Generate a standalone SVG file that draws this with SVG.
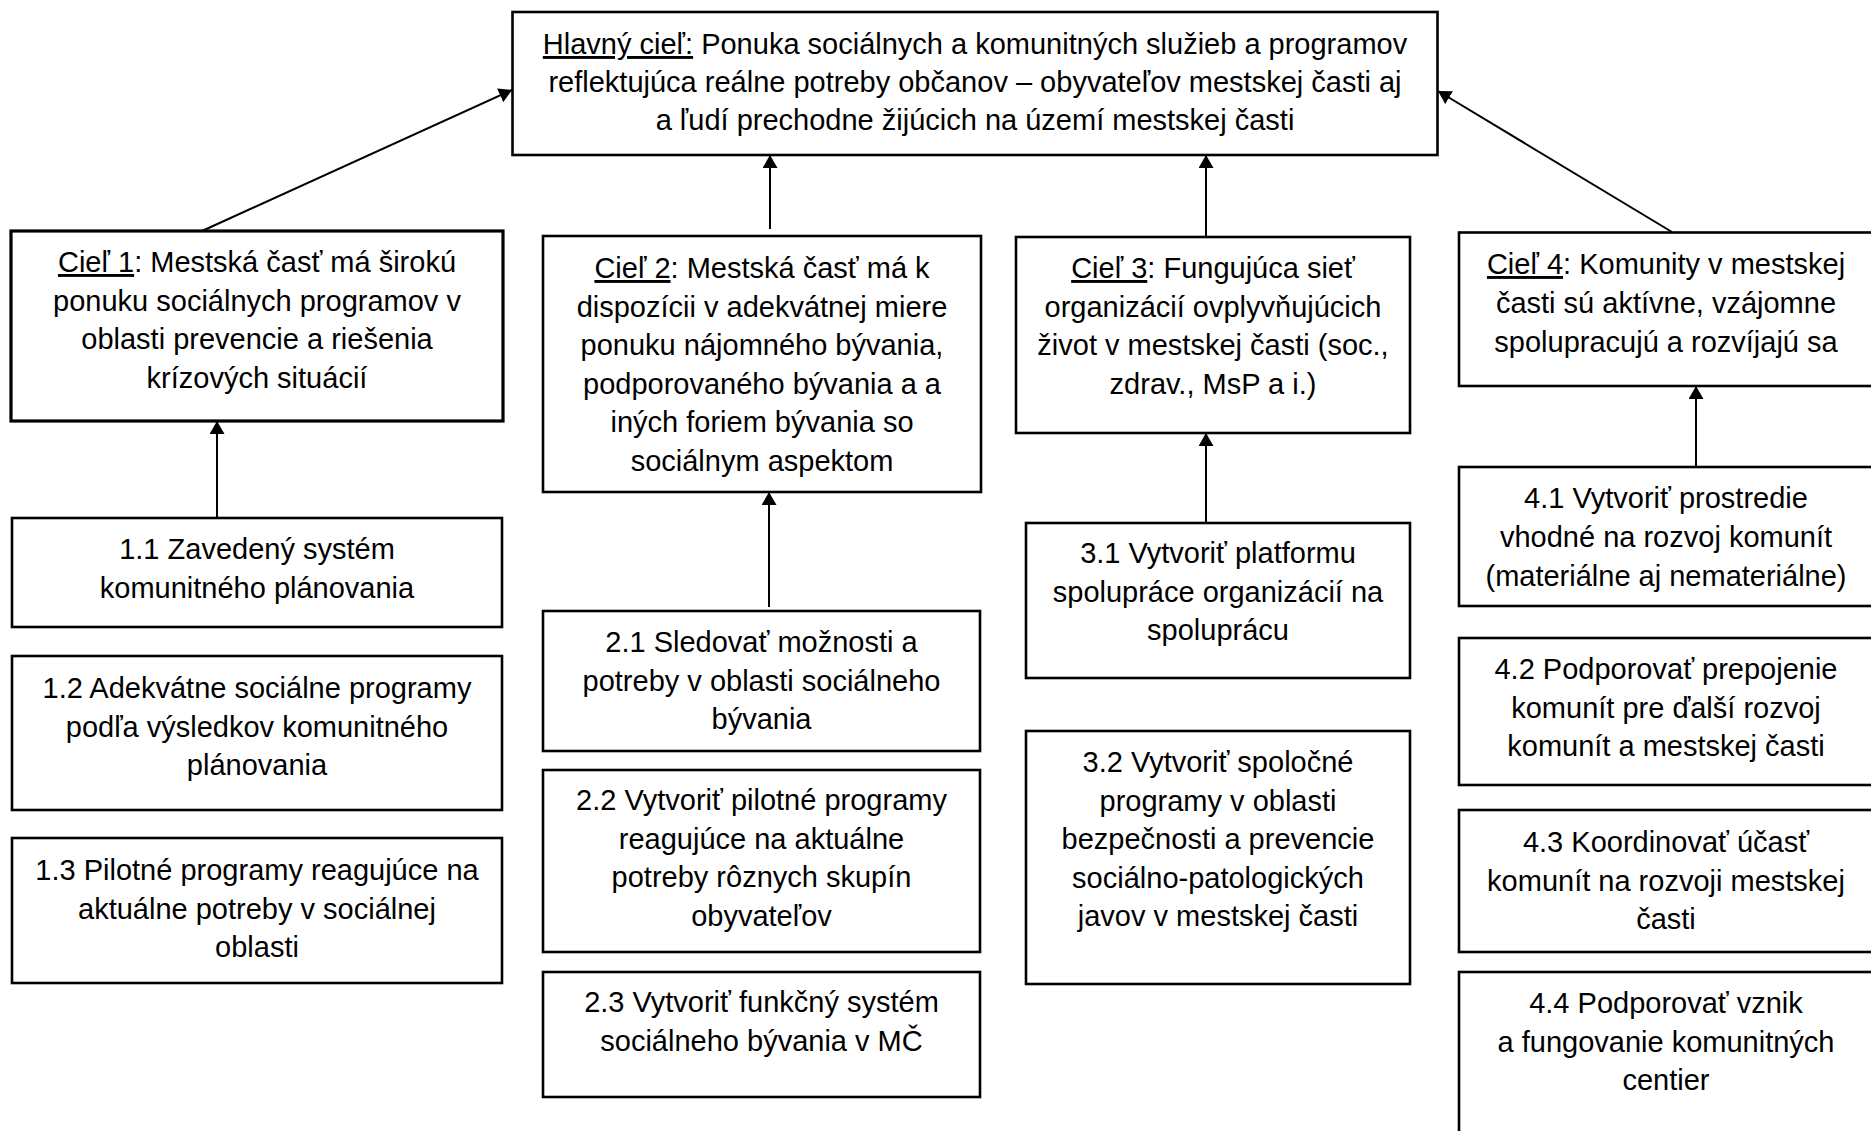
<svg xmlns="http://www.w3.org/2000/svg" width="1871" height="1131" viewBox="0 0 1871 1131">
  <style>
    .box { fill: #ffffff; stroke: #000000; stroke-width: 2.6; }
    .thick { stroke-width: 3.2; }
    .t { font-family: "Liberation Sans", Arial, sans-serif; font-size: 29px; fill: #000000; text-anchor: middle; }
    .u { text-decoration: underline; }
    .conn { stroke: #000000; stroke-width: 2; fill: none; marker-end: url(#arrow); }
  </style>
  <defs>
    <marker id="arrow" viewBox="0 0 13 15" refX="13" refY="7.5" markerWidth="13" markerHeight="15" markerUnits="userSpaceOnUse" orient="auto">
      <path d="M0,0 L13,7.5 L0,15 Z" fill="#000000"/>
    </marker>
  </defs>
  <rect x="0" y="0" width="1871" height="1131" fill="#ffffff"/>

  <g id="connectors">
    <line class="conn" x1="202" y1="231" x2="512" y2="90"/>
    <line class="conn" x1="770" y1="229" x2="770" y2="155"/>
    <line class="conn" x1="1206" y1="236" x2="1206" y2="155"/>
    <line class="conn" x1="1672" y1="232" x2="1438" y2="91"/>
    <line class="conn" x1="217" y1="518" x2="217" y2="421"/>
    <line class="conn" x1="769" y1="607" x2="769" y2="492"/>
    <line class="conn" x1="1206" y1="523" x2="1206" y2="433"/>
    <line class="conn" x1="1696" y1="467" x2="1696" y2="386"/>
  </g>

  <g id="main">
    <rect class="box" x="512.5" y="12" width="925" height="143"/>
    <text class="t" x="975" y="54"><tspan class="u">Hlavný cieľ:</tspan> Ponuka sociálnych a komunitných služieb a programov</text>
    <text class="t" x="975" y="92">reflektujúca reálne potreby občanov – obyvateľov mestskej časti aj</text>
    <text class="t" x="975" y="130">a ľudí prechodne žijúcich na území mestskej časti</text>
  </g>

  <g id="ciel1">
    <rect class="box thick" x="11" y="231" width="492" height="190"/>
    <text class="t" x="257" y="272"><tspan class="u">Cieľ 1</tspan>: Mestská časť má širokú</text>
    <text class="t" x="257" y="310.5">ponuku sociálnych programov v</text>
    <text class="t" x="257" y="349">oblasti prevencie a riešenia</text>
    <text class="t" x="257" y="387.5">krízových situácií</text>
  </g>

  <g id="ciel2">
    <rect class="box" x="543" y="236" width="438" height="256"/>
    <text class="t" x="762" y="278"><tspan class="u">Cieľ 2</tspan>: Mestská časť má k</text>
    <text class="t" x="762" y="316.5">dispozícii v adekvátnej miere</text>
    <text class="t" x="762" y="355">ponuku nájomného bývania,</text>
    <text class="t" x="762" y="393.5">podporovaného bývania a a</text>
    <text class="t" x="762" y="432">iných foriem bývania so</text>
    <text class="t" x="762" y="470.5">sociálnym aspektom</text>
  </g>

  <g id="ciel3">
    <rect class="box" x="1016" y="237" width="394" height="196"/>
    <text class="t" x="1213" y="278"><tspan class="u">Cieľ 3</tspan>: Fungujúca sieť</text>
    <text class="t" x="1213" y="316.5">organizácií ovplyvňujúcich</text>
    <text class="t" x="1213" y="355">život v mestskej časti (soc.,</text>
    <text class="t" x="1213" y="393.5">zdrav., MsP a i.)</text>
  </g>

  <g id="ciel4">
    <rect class="box" x="1459" y="232.5" width="414" height="153.5"/>
    <text class="t" x="1666" y="274"><tspan class="u">Cieľ 4</tspan>: Komunity v mestskej</text>
    <text class="t" x="1666" y="313">časti sú aktívne, vzájomne</text>
    <text class="t" x="1666" y="352">spolupracujú a rozvíjajú sa</text>
  </g>

  <g id="n11">
    <rect class="box" x="12" y="518" width="490" height="109"/>
    <text class="t" x="257" y="559">1.1 Zavedený systém</text>
    <text class="t" x="257" y="597.5">komunitného plánovania</text>
  </g>
  <g id="n12">
    <rect class="box" x="12" y="656" width="490" height="154"/>
    <text class="t" x="257" y="698">1.2 Adekvátne sociálne programy</text>
    <text class="t" x="257" y="736.5">podľa výsledkov komunitného</text>
    <text class="t" x="257" y="775">plánovania</text>
  </g>
  <g id="n13">
    <rect class="box" x="12" y="838" width="490" height="145"/>
    <text class="t" x="257" y="880">1.3 Pilotné programy reagujúce na</text>
    <text class="t" x="257" y="918.5">aktuálne potreby v sociálnej</text>
    <text class="t" x="257" y="957">oblasti</text>
  </g>

  <g id="n21">
    <rect class="box" x="543" y="611" width="437" height="140"/>
    <text class="t" x="761.5" y="652">2.1 Sledovať možnosti a</text>
    <text class="t" x="761.5" y="690.5">potreby v oblasti sociálneho</text>
    <text class="t" x="761.5" y="729">bývania</text>
  </g>
  <g id="n22">
    <rect class="box" x="543" y="770" width="437" height="182"/>
    <text class="t" x="761.5" y="810">2.2 Vytvoriť pilotné programy</text>
    <text class="t" x="761.5" y="848.5">reagujúce na aktuálne</text>
    <text class="t" x="761.5" y="887">potreby rôznych skupín</text>
    <text class="t" x="761.5" y="925.5">obyvateľov</text>
  </g>
  <g id="n23">
    <rect class="box" x="543" y="972" width="437" height="125"/>
    <text class="t" x="761.5" y="1012">2.3 Vytvoriť funkčný systém</text>
    <text class="t" x="761.5" y="1050.5">sociálneho bývania v MČ</text>
  </g>

  <g id="n31">
    <rect class="box" x="1026" y="523" width="384" height="155"/>
    <text class="t" x="1218" y="563">3.1 Vytvoriť platformu</text>
    <text class="t" x="1218" y="601.5">spolupráce organizácií na</text>
    <text class="t" x="1218" y="640">spoluprácu</text>
  </g>
  <g id="n32">
    <rect class="box" x="1026" y="731" width="384" height="253"/>
    <text class="t" x="1218" y="772">3.2 Vytvoriť spoločné</text>
    <text class="t" x="1218" y="810.5">programy v oblasti</text>
    <text class="t" x="1218" y="849">bezpečnosti a prevencie</text>
    <text class="t" x="1218" y="887.5">sociálno-patologických</text>
    <text class="t" x="1218" y="926">javov v mestskej časti</text>
  </g>

  <g id="n41">
    <rect class="box" x="1459" y="467" width="414" height="139"/>
    <text class="t" x="1666" y="508">4.1 Vytvoriť prostredie</text>
    <text class="t" x="1666" y="547">vhodné na rozvoj komunít</text>
    <text class="t" x="1666" y="586">(materiálne aj nemateriálne)</text>
  </g>
  <g id="n42">
    <rect class="box" x="1459" y="638" width="414" height="147"/>
    <text class="t" x="1666" y="679">4.2 Podporovať prepojenie</text>
    <text class="t" x="1666" y="717.5">komunít pre ďalší rozvoj</text>
    <text class="t" x="1666" y="756">komunít a mestskej časti</text>
  </g>
  <g id="n43">
    <rect class="box" x="1459" y="810" width="414" height="142"/>
    <text class="t" x="1666" y="852">4.3 Koordinovať účasť</text>
    <text class="t" x="1666" y="890.5">komunít na rozvoji mestskej</text>
    <text class="t" x="1666" y="929">časti</text>
  </g>
  <g id="n44">
    <rect class="box" x="1459" y="972" width="414" height="170"/>
    <text class="t" x="1666" y="1013">4.4 Podporovať vznik</text>
    <text class="t" x="1666" y="1051.5">a fungovanie komunitných</text>
    <text class="t" x="1666" y="1090">centier</text>
  </g>
</svg>
